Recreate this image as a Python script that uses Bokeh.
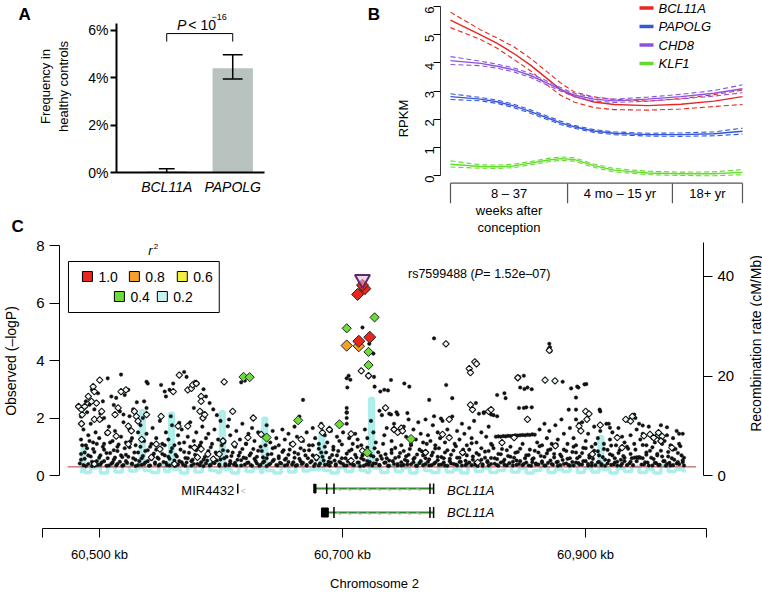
import numpy as np
from bokeh.plotting import figure
from bokeh.models import Range1d, LinearAxis, FixedTicker, PrintfTickFormatter
from bokeh.layouts import column, row
from bokeh.embed import file_html
from bokeh.resources import INLINE
from bokeh.core.properties import value

FONT = "Liberation Sans"

# ---------------- Panel A data ----------------
a_genes = ["BCL11A", "PAPOLG"]
a_freq = [0.05, 4.40]
a_err_lo = [0.0, 3.95]
a_err_hi = [0.16, 4.98]
a_ticks = [0, 2, 4, 6]

# ---------------- Panel B data ----------------
b_t = [0.0, 0.103, 0.160, 0.217, 0.274, 0.331, 0.377, 0.423, 0.491, 0.560, 0.674, 0.789, 0.903, 1.0]
b_series = ["BCL11A", "PAPOLG", "CHD8", "KLF1"]
b_colors = ["#e8271f", "#3457dc", "#8b52de", "#62dc2c"]
bcl11a_fit = [5.52, 4.99, 4.69, 4.33, 3.92, 3.44, 3.05, 2.81, 2.61, 2.52, 2.48, 2.53, 2.64, 2.80]
bcl11a_hi = [5.80, 5.17, 4.88, 4.57, 4.16, 3.68, 3.29, 2.97, 2.79, 2.70, 2.64, 2.73, 2.87, 3.03]
bcl11a_lo = [5.25, 4.83, 4.52, 4.12, 3.72, 3.21, 2.85, 2.61, 2.41, 2.34, 2.32, 2.36, 2.45, 2.52]
papolg_fit = [2.80, 2.71, 2.62, 2.47, 2.27, 2.05, 1.87, 1.73, 1.58, 1.50, 1.45, 1.45, 1.48, 1.57]
papolg_hi = [2.90, 2.77, 2.68, 2.53, 2.33, 2.11, 1.93, 1.78, 1.63, 1.55, 1.50, 1.51, 1.55, 1.68]
papolg_lo = [2.70, 2.65, 2.56, 2.41, 2.21, 1.99, 1.81, 1.68, 1.53, 1.45, 1.40, 1.39, 1.41, 1.47]
chd8_fit = [4.08, 3.98, 3.88, 3.75, 3.55, 3.28, 3.06, 2.86, 2.71, 2.65, 2.71, 2.80, 2.92, 3.08]
chd8_hi = [4.22, 4.06, 3.95, 3.82, 3.62, 3.35, 3.12, 2.92, 2.77, 2.71, 2.78, 2.88, 3.02, 3.22]
chd8_lo = [3.94, 3.90, 3.81, 3.68, 3.48, 3.21, 3.00, 2.80, 2.65, 2.59, 2.64, 2.72, 2.82, 2.94]
klf1_fit = [0.40, 0.32, 0.31, 0.34, 0.44, 0.54, 0.60, 0.57, 0.35, 0.19, 0.09, 0.06, 0.06, 0.11]
klf1_hi = [0.52, 0.38, 0.37, 0.40, 0.50, 0.60, 0.66, 0.63, 0.41, 0.25, 0.15, 0.12, 0.13, 0.21]
klf1_lo = [0.30, 0.26, 0.25, 0.28, 0.38, 0.48, 0.54, 0.51, 0.29, 0.13, 0.03, 0.00, -0.01, 0.03]
b_fits = [bcl11a_fit, papolg_fit, chd8_fit, klf1_fit]
b_his = [bcl11a_hi, papolg_hi, chd8_hi, klf1_hi]
b_los = [bcl11a_lo, papolg_lo, chd8_lo, klf1_lo]
b_ticks = [0, 1, 2, 3, 4, 5, 6]
b_period_edges = [0.0, 0.401, 0.760, 1.0]
b_period_labels = ["8 – 37\nweeks after\nconception", "4 mo – 15 yr", "18+ yr"]

# ---------------- Panel C data ----------------
c_left_ticks = [0, 2, 4, 6, 8]
c_right_ticks = [0, 20, 40]
c_x_ticks = [60500, 60700, 60900]
c_threshold = 0.3
index_snp = ("rs7599488", 60716, 6.82)

# SNPs without LD information (black dots): (kb, -log10 P)
na_snps = [
    (60483,0.42),(60484,0.75),(60486,0.36),(60487,0.58),(60489,0.95),(60490,0.4),(60492,0.66),(60493,0.33),(60495,0.82),(60497,0.5),
    (60498,0.37),(60500,0.7),(60501,0.45),(60503,0.9),(60505,0.34),(60506,0.6),(60508,0.78),(60509,0.41),(60511,0.55),(60513,0.35),
    (60514,0.85),(60516,0.48),(60518,0.64),(60519,0.36),(60521,0.72),(60522,0.44),(60524,0.98),(60526,0.39),(60527,0.6),(60529,0.33),
    (60531,0.8),(60532,0.5),(60534,0.37),(60535,0.68),(60537,0.45),(60539,0.88),(60540,0.34),(60542,0.57),(60544,0.76),(60545,0.4),
    (60547,0.62),(60548,0.35),(60550,0.93),(60552,0.47),(60553,0.7),(60555,0.36),(60557,0.58),(60558,0.83),(60560,0.42),(60562,0.34),
    (60563,0.66),(60565,0.5),(60566,0.9),(60568,0.38),(60570,0.61),(60571,0.45),(60573,0.79),(60575,0.35),(60576,0.55),(60578,0.72),
    (60580,0.4),(60581,0.96),(60583,0.46),(60585,0.33),(60586,0.64),(60588,0.52),(60589,0.85),(60591,0.37),(60593,0.6),(60594,0.43),
    (60596,0.74),(60598,0.34),(60599,0.56),(60601,0.88),(60603,0.4),(60604,0.65),(60606,0.36),(60607,0.5),(60609,0.8),(60611,0.44),
    (60612,0.35),(60614,0.69),(60616,0.53),(60617,0.92),(60619,0.38),(60620,0.6),(60622,0.45),(60624,0.77),(60625,0.34),(60627,0.58),
    (60629,0.42),(60630,0.86),(60632,0.37),(60634,0.63),(60635,0.49),(60637,0.33),(60638,0.73),(60640,0.41),(60642,0.95),(60643,0.55),
    (60645,0.36),(60647,0.67),(60648,0.44),(60650,0.82),(60652,0.35),(60653,0.59),(60655,0.47),(60656,0.9),(60658,0.38),(60660,0.62),
    (60661,0.34),(60663,0.75),(60665,0.5),(60666,0.4),(60668,0.87),(60670,0.36),(60671,0.6),(60673,0.45),(60675,0.7),(60676,0.33),
    (60678,0.56),(60680,0.93),(60681,0.42),(60683,0.65),(60685,0.37),(60686,0.8),(60688,0.48),(60689,0.34),(60691,0.71),(60693,0.52),
    (60694,0.39),(60696,0.85),(60698,0.44),(60699,0.6),(60701,0.35),(60703,0.76),(60704,0.5),(60706,0.41),(60707,0.9),(60709,0.36),
    (60711,0.63),(60712,0.45),(60714,0.33),(60716,0.7),(60717,0.55),(60719,0.38),(60720,0.97),(60722,0.47),(60724,0.35),(60725,0.66),
    (60727,0.42),(60729,0.81),(60730,0.36),(60732,0.58),(60734,0.44),(60735,0.74),(60737,0.34),(60738,0.52),(60740,0.89),(60742,0.4),
    (60743,0.61),(60745,0.35),(60747,0.78),(60748,0.46),(60750,0.37),(60752,0.67),(60753,0.5),(60755,0.92),(60756,0.39),(60758,0.57),
    (60760,0.34),(60761,0.73),(60763,0.43),(60765,0.84),(60766,0.36),(60768,0.6),(60770,0.48),(60771,0.35),(60773,0.7),(60775,0.41),
    (60776,0.94),(60778,0.53),(60779,0.37),(60781,0.64),(60783,0.45),(60784,0.8),(60786,0.34),(60788,0.58),(60789,0.42),(60791,0.87),
    (60793,0.38),(60794,0.62),(60796,0.47),(60798,0.35),(60799,0.76),(60801,0.51),(60802,0.4),(60804,0.9),(60806,0.36),(60807,0.66),
    (60809,0.44),(60811,0.33),(60812,0.72),(60814,0.55),(60815,0.39),(60817,0.83),(60819,0.46),(60820,0.35),(60822,0.61),(60824,0.95),
    (60825,0.41),(60827,0.57),(60828,0.34),(60830,0.74),(60832,0.48),(60833,0.37),(60835,0.88),(60837,0.43),(60838,0.65),(60840,0.35),
    (60842,0.79),(60843,0.52),(60845,0.4),(60846,0.93),(60848,0.36),(60850,0.6),(60851,0.45),(60853,0.71),(60855,0.34),(60856,0.56),
    (60858,0.86),(60859,0.42),(60861,0.38),(60863,0.68),(60864,0.49),(60866,0.35),(60868,0.77),(60869,0.44),(60871,0.91),(60873,0.37),
    (60874,0.63),(60876,0.46),(60877,0.34),(60879,0.73),(60881,0.54),(60882,0.4),(60884,0.85),(60886,0.36),(60887,0.6),(60889,0.47),
    (60890,0.35),(60892,0.8),(60894,0.43),(60895,0.66),(60897,0.38),(60898,0.96),(60900,0.5),(60902,0.35),(60903,0.7),(60905,0.44),
    (60906,0.58),(60908,0.36),(60910,0.84),(60911,0.47),(60913,0.4),(60914,0.64),(60916,0.34),(60918,0.89),(60919,0.52),(60921,0.37),
    (60922,0.7),(60924,0.45),(60926,0.35),(60927,0.78),(60929,0.55),(60930,0.41),(60932,0.62),(60934,0.36),(60935,0.93),(60937,0.48),
    (60938,0.6),(60940,0.62),(60942,0.63),(60943,0.61),(60945,0.62),(60947,0.6),(60948,0.38),(60950,0.72),(60951,0.45),(60953,0.86),
    (60955,0.35),(60956,0.57),(60958,0.43),(60959,0.75),(60961,0.37),(60963,0.66),(60964,0.5),(60966,0.34),(60968,0.82),(60969,0.44),
    (60971,0.6),(60972,0.36),(60974,0.92),(60976,0.47),(60977,0.39),(60979,0.7),(60980,0.53),(60981,0.35),
    (60484,0.55),(60485,1.05),(60487,0.8),(60488,0.33),(60490,0.7),(60491,1.2),(60493,0.48),(60494,0.92),(60496,0.36),(60497,1.1),
    (60499,0.62),(60500,0.38),(60502,1.0),(60503,0.5),(60505,0.78),(60507,0.35),(60508,1.15),(60510,0.45),(60511,0.88),(60512,0.62),
    (60514,0.4),(60515,1.08),(60517,0.7),(60518,0.34),(60520,0.95),(60521,0.5),(60523,0.65),(60525,1.2),(60526,0.42),(60528,0.8),
    (60529,0.55),(60531,0.36),(60533,1.0),(60534,0.6),(60536,0.4),(60537,0.85),(60539,0.5),(60541,0.35),(60542,1.1),(60543,0.68),
    (60545,0.45),(60546,0.9),(60548,0.58),(60549,0.38),(60551,0.75),(60553,1.05),(60554,0.44),(60556,0.65),(60557,0.35),(60559,0.95),
    (60561,0.52),(60562,0.72),(60564,0.38),(60565,1.12),(60567,0.46),(60569,0.82),(60570,0.34),(60572,0.6),(60574,1.0),(60575,0.5),
    (60577,0.4),(60579,0.88),(60580,0.62),(60582,0.36),(60583,1.15),(60585,0.55),(60587,0.42),(60588,0.7),(60590,0.35),(60591,0.98),
    (60593,0.46),(60595,0.8),(60596,0.52),(60598,0.38),(60600,1.05),(60602,0.6),(60603,0.35),(60605,0.85),(60607,0.42),(60608,0.68),
    (60610,0.38),(60611,1.0),(60613,0.55),(60615,0.8),(60616,0.35),(60618,0.62),(60620,1.1),(60621,0.44),(60623,0.7),(60624,0.36),
    (60626,0.92),(60628,0.5),(60629,0.65),(60631,0.34),(60633,0.85),(60634,0.45),(60636,1.05),(60637,0.6),(60639,0.38),(60641,0.75),
    (60642,0.5),(60644,0.98),(60646,0.35),(60647,0.6),(60649,0.42),(60651,0.88),(60652,0.55),(60654,0.37),(60655,0.72),(60657,1.1),
    (60659,0.46),(60660,0.8),(60662,0.36),(60664,0.58),(60665,0.95),(60667,0.44),(60669,0.7),(60670,0.34),(60672,0.88),(60674,0.5),
    (60675,1.05),(60677,0.4),(60679,0.65),(60680,0.35),(60682,0.8),(60684,0.52),(60685,1.0),(60687,0.38),(60689,0.62),(60690,0.45),
    (60692,0.9),(60694,0.35),(60695,0.7),(60697,0.48),(60699,1.08),(60700,0.4),(60702,0.6),(60703,0.35),(60705,0.85),(60707,0.52),
    (60708,0.38),(60710,0.72),(60712,1.0),(60713,0.45),(60715,0.6),(60717,0.34),(60718,0.82),(60720,0.5),(60721,0.38),(60723,0.7),
    (60725,0.42),(60726,0.95),(60728,0.55),(60730,0.36),(60731,0.68),(60733,1.1),(60735,0.45),(60736,0.6),(60738,0.34),(60740,0.78),
    (60741,0.5),(60743,0.96),(60745,0.4),(60746,0.65),(60748,0.35),(60750,0.85),(60751,0.55),(60753,0.38),(60754,0.72),(60756,1.05),
    (60758,0.46),(60759,0.62),(60761,0.34),(60763,0.9),(60764,0.5),(60766,0.7),(60768,0.4),(60769,1.1),(60771,0.56),(60773,0.36),
    (60774,0.8),(60776,0.45),(60778,0.65),(60779,0.95),(60781,0.38),(60783,0.6),(60784,0.35),(60786,0.88),(60788,0.5),(60789,0.72),
    (60791,0.4),(60793,1.02),(60794,0.35),(60796,0.62),(60797,0.48),(60799,0.9),(60801,0.36),(60802,0.7),(60804,0.45),(60806,1.12),
    (60807,0.55),(60809,0.38),(60810,0.78),(60812,0.46),(60814,0.95),(60815,0.34),(60817,0.62),(60819,0.5),(60820,0.85),(60822,0.4),
    (60823,1.05),(60825,0.6),(60827,0.36),(60828,0.75),(60830,0.45),(60831,0.92),(60833,0.55),(60835,0.35),(60836,0.68),(60838,1.0),
    (60840,0.48),(60841,0.62),(60843,0.37),(60844,0.82),(60846,0.5),(60848,1.1),(60849,0.4),(60851,0.7),(60853,0.35),(60854,0.9),
    (60856,0.46),(60857,0.6),(60859,0.38),(60861,0.8),(60862,1.02),(60864,0.44),(60866,0.65),(60867,0.35),(60869,0.88),(60871,0.52),
    (60872,0.4),(60874,0.75),(60876,1.08),(60877,0.48),(60879,0.36),(60880,0.66),(60882,0.9),(60884,0.42),(60885,0.58),(60887,0.35),
    (60889,0.82),(60890,1.0),(60892,0.45),(60893,0.6),(60895,0.38),(60897,0.78),(60898,0.5),(60900,0.95),(60902,0.4),(60903,0.62),
    (60905,0.35),(60907,0.86),(60908,1.1),(60910,0.46),(60911,0.7),(60913,0.36),(60915,0.92),(60916,0.55),(60918,0.42),(60920,0.74),
    (60921,1.04),(60923,0.38),(60924,0.6),(60926,0.48),(60928,0.88),(60929,0.35),(60931,0.68),(60932,0.5),(60934,1.0),(60936,0.42),
    (60937,0.75),(60939,0.36),(60941,0.9),(60942,0.5),(60944,0.64),(60946,0.38),(60947,1.06),(60949,0.46),(60950,0.8),(60952,0.35),
    (60954,0.62),(60955,0.98),(60957,0.44),(60959,0.7),(60960,0.36),(60962,0.86),(60963,1.1),(60965,0.5),(60967,0.4),(60968,0.66),
    (60970,0.35),(60972,0.9),(60973,0.55),(60975,0.42),(60976,0.78),(60978,1.02),(60980,0.46),(60981,0.62),
    (60484,1.25),(60486,1.6),(60488,1.05),(60490,1.4),(60492,1.8),(60494,1.15),(60496,1.5),(60499,1.3),(60501,1.95),(60503,1.1),
    (60505,1.45),(60507,1.7),(60510,1.2),(60512,1.55),(60514,1.0),(60517,1.35),(60519,1.85),(60521,1.15),(60524,1.6),(60526,1.3),
    (60529,1.05),(60531,1.5),(60533,1.75),(60536,1.2),(60538,1.45),(60541,1.0),(60543,1.65),(60546,1.3),(60549,1.9),(60551,1.1),
    (60554,1.5),(60556,1.25),(60559,1.75),(60561,1.05),(60564,1.4),(60567,1.6),(60569,1.15),(60572,1.35),(60574,1.85),(60577,1.2),
    (60579,1.5),(60582,1.05),(60584,1.7),(60587,1.3),(60589,1.45),(60592,1.1),(60594,1.6),(60597,1.25),(60599,1.9),(60602,1.15),
    (60605,1.71),(60607,1.4),(60610,1.05),(60612,1.55),(60615,1.25),(60617,1.8),(60620,1.1),(60622,1.45),(60625,1.65),(60627,1.2),
    (60630,1.5),(60632,1.0),(60635,1.35),(60637,1.75),(60640,1.15),(60642,1.55),(60645,1.3),(60647,1.05),(60650,1.6),(60652,1.25),
    (60655,1.45),(60657,1.1),(60660,1.7),(60662,1.35),(60664,2.05),(60667,1.2),(60670,1.5),(60672,1.05),(60675,1.65),(60677,1.3),
    (60680,1.1),(60682,1.8),(60685,1.4),(60687,1.15),(60690,1.55),(60692,1.0),(60695,1.35),(60697,1.2),(60700,1.5),(60703,2.2),
    (60703,2.0),(60703,1.8),(60705,1.3),(60708,1.1),(60710,1.45),(60712,1.25),(60715,1.05),(60718,1.6),(60720,1.3),(60723,1.9),
    (60725,1.5),(60727,1.15),(60730,2.25),(60732,2.1),(60734,1.4),(60736,1.65),(60738,2.15),(60740,1.2),(60742,1.8),(60744,2.2),
    (60746,1.5),(60748,1.05),(60750,1.7),(60752,1.35),(60754,1.95),(60756,1.1),(60758,1.6),(60760,1.25),(60762,1.85),(60764,1.45),
    (60766,1.15),(60768,1.95),(60770,1.4),(60772,1.2),(60774,1.75),(60776,1.05),(60778,1.5),(60780,1.3),(60782,1.9),(60784,1.15),
    (60786,1.6),(60788,1.35),(60790,2.05),(60792,1.1),(60794,1.55),(60796,1.25),(60798,1.8),(60800,1.45),(60802,1.05),(60804,1.65),
    (60806,1.3),(60808,1.9),(60810,1.15),(60812,2.15),(60814,1.5),(60816,2.2),(60818,1.35),(60820,1.7),(60822,1.1),(60824,2.1),
    (60826,1.35),(60828,1.36),(60830,1.35),(60832,1.37),(60834,1.36),(60836,1.38),(60838,1.37),(60840,1.38),(60842,1.4),(60844,1.39),
    (60846,1.4),(60848,1.41),(60850,1.4),(60852,1.42),(60854,1.41),(60856,1.43),(60858,1.42),(60860,1.15),(60862,1.6),(60864,1.05),
    (60866,1.8),(60868,1.3),(60870,1.55),(60872,1.1),(60875,1.75),(60877,1.25),(60880,1.95),(60882,1.45),(60885,1.1),(60887,1.65),
    (60890,1.3),(60892,1.05),(60895,1.55),(60897,1.85),(60900,1.2),(60902,1.45),(60905,1.0),(60907,1.7),(60910,1.3),(60912,1.55),
    (60915,1.1),(60917,1.8),(60920,1.25),(60922,1.5),(60925,1.05),(60927,1.65),(60930,1.35),(60932,1.15),(60935,1.9),(60937,1.4),
    (60940,1.1),(60942,1.6),(60945,1.25),(60947,1.45),(60950,1.05),(60952,1.7),(60955,1.3),(60957,1.15),(60960,1.5),(60962,1.75),
    (60965,1.2),(60967,1.4),(60970,1.05),(60972,1.3),(60975,1.55),(60977,1.1),(60980,1.45),
    (60486,2.35),(60488,2.58),(60491,2.46),(60493,2.98),(60498,2.86),(60502,2.58),(60506,3.38),(60509,2.75),(60517,3.51),(60503,2.0),
    (60484,2.05),(60489,2.2),(60495,2.3),(60500,2.15),(60511,2.45),(60513,2.7),(60527,2.3),(60530,2.55),
    (60516,2.23),(60519,2.12),(60523,2.98),(60520,2.8),(60524,2.06),(60538,3.26),(60539,3.2),(60536,2.58),(60538,2.35),(60535,2.0),
    (60550,3.15),(60553,2.92),(60554,2.75),(60557,2.98),(60560,3.2),(60569,3.6),(60571,3.43),(60578,3.26),(60580,3.2),(60577,2.35),
    (60583,2.23),(60590,2.52),(60558,2.06),(60565,1.83),(60585,3.0),(60587,2.75),(60593,2.3),(60596,2.1),
    (60606,1.95),(60616,3.24),(60619,3.3),(60667,2.63),
    (60703,3.38),(60704.6,3.47),(60706,3.33),(60703.5,3.06),(60703,2.35),(60703,2.18),(60716,5.15),(60721.6,4.58),(60726,3.09),
    (60725,4.24),(60725.5,3.43),(60730.7,2.92),(60734,2.98),(60737,2.96),(60739.5,3.32),(60750.5,3.2),(60754.6,3.09),(60771,2.63),
    (60775,4.77),(60785,3.15),(60790,2.69),(60809.5,2.52),(60734,2.35),(60739.5,2.12),(60745,2.12),(60753,2.17),(60775,2.06),
    (60780.7,1.98),(60816,2.17),(60822,2.12),(60827,2.06),(60827,2.8),(60833,2.86),(60834,2.69),(60845,3.43),(60849,3.47),
    (60846,3.06),(60849.5,3.01),(60852,3.06),(60855.5,3.0),(60845,2.35),(60849,2.35),(60851,2.37),(60855.5,2.37),
    (60870,4.58),(60870.5,4.46),(60869.5,4.41),(60871,4.32),(60881,3.26),(60888,3.03),(60893,3.09),(60894,3.06),(60899,3.17),
    (60900.5,3.18),(60892,2.71),(60886,2.29),(60892,2.29),(60911.5,2.29),(60912,2.23),(60940,2.12),(60892,1.95),(60894.5,1.8),
    (60919,1.8),(60920,1.66),(60944,1.8),(60947,1.74),(60967,1.68),(60977,1.45),(60936,1.95),(60939,2.05),(60941,2.0),
]

# SNPs with r2 <= 0.2 (small pale diamonds)
r2_02_snps = [
    (60482,2.4),(60484.4,2.29),(60485,2.12),(60487,2.4),(60490,2.75),(60492.6,2.58),(60494,3.09),(60495,2.92),(60496.7,2.52),
    (60499.4,3.32),(60501,2.23),(60495,1.95),(60499.4,1.95),(60484.4,1.8),(60514.6,2.35),(60517,2.92),(60521,2.98),(60528,2.23),
    (60529.6,2.06),(60523,1.72),(60525.5,1.55),(60531,1.89),(60538,2.12),(60512,2.12),(60550,2.06),(60560,2.92),(60565,3.49),
    (60572,2.98),(60575,3.03),(60576,3.15),(60579,3.2),(60583,2.75),(60582,2.23),(60584.5,2.0),(60586,2.12),(60564,1.72),
    (60572,1.72),(60583,2.58),(60506,1.49),(60513,1.37),(60523,1.09),(60534,1.26),(60546,1.09),(60549,0.92),(60577.6,0.97),
    (60583,0.92),(60588.6,0.74),(60495,0.4),(60542,0.63),(60561,0.4),(60580,0.63),(60593,0.57),
    (60602,3.26),(60609,2.23),(60626,2.0),(60601,1.2),(60610.5,1.09),(60621.6,1.32),(60632.5,1.43),(60658.6,1.09),(60665.4,1.26),
    (60682,1.72),(60688.7,1.6),(60683,1.49),(60706.6,1.45),(60716,0.86),(60678,0.63),(60706.6,0.52),(60715,3.64),(60721,3.47),
    (60598,0.74),(60784.8,4.58),(60804,3.72),(60805,3.58),(60808.6,3.95),(60810,3.88),(60805,2.46),(60806.7,2.29),(60735,2.35),
    (60787.5,1.95),(60742,1.6),(60745,1.5),(60748,1.65),(60749,1.55),(60844,3.4),(60852,1.95),(60782,1.43),(60787.5,1.32),
    (60768,0.8),(60798.5,0.8),(60820,2.23),(60822,2.29),(60831,1.14),(60841,1.32),(60811,0.46),
    (60870,4.35),(60866.5,3.32),(60874.7,3.29),(60900,2.23),(60902.7,2.14),(60901,1.95),(60894.5,1.72),(60896,1.55),(60912,1.75),
    (60933,1.95),(60937,1.89),(60938.4,2.06),(60926,1.32),(60930,0.97),(60948,1.38),(60953,1.43),(60956,1.32),(60960,1.4),
    (60963,1.36),(60960,1.49),(60962,1.2),(60875,1.03),(60905.5,0.74),(60971,0.97),
]

# SNPs in LD with the index SNP
r2_10_snps = [(60713, 4.67), (60722, 4.81), (60712, 6.30), (60718, 6.50), (60716, 6.62)]
r2_08_snps = [(60703, 4.52), (60713, 4.50)]
r2_04_snps = [(60703, 5.12), (60726, 5.50), (60721, 4.30), (60721, 3.84), (60618, 3.43), (60623, 3.42),
              (60663, 1.92), (60697, 1.78), (60637, 1.32), (60756, 1.27), (60720, 0.80)]
r2_labels = ["1.0", "0.8", "0.6", "0.4", "0.2"]
r2_colors = ["#e8261e", "#f5a02a", "#f2ee3c", "#6cdc3a", "#c8f2f0"]

# recombination rate (cM/Mb)
recomb_kb = [60483, 60485, 60487, 60492, 60497, 60500, 60506, 60512, 60518, 60524, 60530, 60533, 60536, 60542, 60548,
             60553, 60557, 60560, 60566, 60572, 60578, 60584, 60590, 60596, 60599, 60602, 60608, 60614, 60620, 60626,
             60632, 60634, 60637, 60643, 60649, 60655, 60661, 60667, 60672, 60681, 60684, 60690, 60696, 60702, 60708,
             60714, 60719, 60722, 60725, 60731, 60737, 60743, 60749, 60755, 60761, 60767, 60773, 60779, 60785, 60791,
             60797, 60803, 60809, 60815, 60821, 60827, 60833, 60839, 60845, 60851, 60857, 60863, 60869, 60875, 60881,
             60887, 60893, 60899, 60905, 60911, 60914, 60920, 60926, 60932, 60938, 60944, 60950, 60956, 60962, 60968,
             60974, 60981]
recomb_rate = [0.8, 5.5, 0.6, 1.5, 3.0, 0.5, 1.8, 0.7, 2.2, 0.9, 1.5, 13.0, 1.0, 0.6, 2.0,
               0.8, 12.5, 1.2, 0.5, 1.8, 0.7, 2.5, 1.0, 0.6, 12.8, 1.2, 0.5, 2.0, 0.8, 1.5,
               0.6, 11.5, 1.0, 0.5, 1.8, 0.7, 2.0, 0.9, 1.2, 8.5, 1.0, 0.5, 1.6, 0.8, 2.0,
               1.0, 0.6, 15.5, 1.5, 0.6, 2.0, 0.8, 1.5, 0.5, 2.5, 1.0, 0.6, 1.8, 0.7, 1.2,
               0.5, 2.0, 0.8, 1.5, 0.6, 1.0, 2.2, 0.7, 1.4, 0.5, 1.0, 1.8, 0.6, 1.2, 0.8,
               2.0, 0.6, 1.5, 0.7, 7.8, 1.2, 0.5, 1.4, 0.8, 1.8, 0.6, 1.2, 0.5, 2.0, 0.8,
               1.2, 0.6]

# genes
gene_names = ["BCL11A", "BCL11A"]
gene_start = [60677, 60683]
gene_end = [60775, 60775]
gene_exon_ticks = [[60687, 60693, 60772, 60775], [60693, 60772, 60775]]
gene_exon_boxes = [[(60676.4, 60678.2)], [(60682.7, 60688.3)]]
gene_intron = [(60697, 60769), (60697, 60769)]
mir_name = "MIR4432"
mir_pos = 60613.8

panel_letters = ["A", "B", "C"]


def unzip(pairs):
    return [p[0] for p in pairs], [p[1] for p in pairs]


def txt(p, x, y, s, size, style="normal", align="left", baseline="middle", color="black", angle=0):
    p.text(x=[x], y=[y], text=[s], text_font=value(FONT), text_font_size=value(size),
           text_font_style=style, text_align=align, text_baseline=baseline,
           text_color=color, angle=angle)


def base(p):
    p.outline_line_color = None
    p.grid.visible = False
    p.background_fill_color = "white"
    p.border_fill_color = "white"
    p.frame_align = False


def style_axis(ax, size):
    ax.major_label_text_font = FONT
    ax.major_label_text_font_size = size
    ax.axis_label_text_font = FONT
    ax.axis_label_text_font_style = "normal"
    ax.minor_tick_out = 0
    ax.minor_tick_in = 0
    ax.major_tick_in = 0
    ax.axis_line_color = "black"
    ax.major_tick_line_color = "black"
    ax.major_label_text_color = "black"
    ax.axis_label_text_color = "black"


def blank(width, height):
    # a figure whose frame is the whole canvas, in screen-like units (y grows downward)
    p = figure(width=width, height=height, output_backend="svg", toolbar_location=None,
               x_range=Range1d(0, width), y_range=Range1d(height, 0),
               x_axis_location=None, y_axis_location=None,
               min_border_left=0, min_border_right=0, min_border_top=0, min_border_bottom=0)
    base(p)
    return p


TOP_H = 236

# =============== panel letters A / C column ===============
pl = blank(35, TOP_H)
txt(pl, 18, 4, panel_letters[0], "17px", style="bold", baseline="top")
txt(pl, 11, TOP_H - 0.5, panel_letters[2], "17px", style="bold", baseline="bottom")

# =============== Panel A ===============
# x=0 at 163px, 67 px/unit ; y=0 at 172px, 23.67 px per %
pa = figure(width=345, height=TOP_H, output_backend="svg", toolbar_location=None,
            x_range=Range1d(-0.761, 3.239), y_range=Range1d(0, 7.267),
            min_border_left=77, min_border_right=0, min_border_top=0, min_border_bottom=TOP_H - 172)
base(pa)
xa = list(range(len(a_genes)))
pa.vbar(x=xa, top=a_freq, width=0.612, fill_color="#b8c3c0", line_color=None)
pa.segment(x0=xa, y0=a_err_lo, x1=xa, y1=a_err_hi, line_color="black", line_width=1.5)
cap = [0.12, 0.15]
pa.segment(x0=[x - c for x, c in zip(xa, cap)], y0=a_err_hi, x1=[x + c for x, c in zip(xa, cap)], y1=a_err_hi,
           line_color="black", line_width=1.5)
pa.segment(x0=[x - c for x, c in zip(xa[1:], cap[1:])], y0=a_err_lo[1:],
           x1=[x + c for x, c in zip(xa[1:], cap[1:])], y1=a_err_lo[1:], line_color="black", line_width=1.5)
# significance bracket
pa.segment(x0=[xa[0], xa[0], xa[1]], y0=[5.87, 5.87, 5.87], x1=[xa[1], xa[0], xa[1]], y1=[5.87, 5.53, 5.53],
           line_color="black", line_width=1)
txt(pa, 0.154, 6.25, "P", "14px", style="italic", baseline="alphabetic")
txt(pa, 0.328, 6.25, "< 10", "14px", baseline="alphabetic")
txt(pa, 0.68, 6.55, "−16", "9px", baseline="alphabetic")
# panel letter B (sits left of panel B's axis)
txt(pa, (367 - 163) / 67, (172 - 4) / 23.67, panel_letters[1], "17px", style="bold", baseline="top")
pa.yaxis.ticker = FixedTicker(ticks=a_ticks)
pa.yaxis.formatter = PrintfTickFormatter(format="%d%%")
pa.yaxis.bounds = (0, 6.28)
style_axis(pa.yaxis[0], "14px")
pa.yaxis.major_tick_out = 6
pa.yaxis.major_label_standoff = 2
pa.yaxis.axis_line_width = 2
pa.yaxis.major_tick_line_width = 2
pa.yaxis.axis_label = "Frequency in\nhealthy controls"
pa.yaxis.axis_label_text_font_size = "13px"
pa.yaxis.axis_label_standoff = 14
pa.xaxis.ticker = FixedTicker(ticks=xa)
pa.xaxis.bounds = (-0.761, 1.478)
pa.xaxis.major_label_overrides = {i: g for i, g in enumerate(a_genes)}
style_axis(pa.xaxis[0], "14px")
pa.xaxis.major_label_text_font_style = "italic"
pa.xaxis.major_tick_out = 0
pa.xaxis.major_label_standoff = 6
pa.xaxis.axis_line_width = 2

# =============== Panel B ===============
# t=0 at 450px, 292 px/unit; y=0 at 175px, 28.17 px/unit
pb = figure(width=382, height=TOP_H, output_backend="svg", toolbar_location=None,
            x_range=Range1d(-0.0342, 1.0685), y_range=Range1d(-(TOP_H - 175) / 28.17, 6.213),
            x_axis_location=None, min_border_left=60, min_border_right=0, min_border_top=0, min_border_bottom=0)
base(pb)
for name, col, fit, hi, lo in zip(b_series, b_colors, b_fits, b_his, b_los):
    pb.line(b_t, hi, line_color=col, line_width=1.1, line_dash="5 3")
    pb.line(b_t, lo, line_color=col, line_width=1.1, line_dash="5 3")
    pb.line(b_t, fit, line_color=col, line_width=1.4)


def by(py):
    return (175 - py) / 28.17


def bx(px):
    return (px - 450) / 292


for i, (name, col) in enumerate(zip(b_series, b_colors)):
    yy = by(7.5 + 18.5 * i)
    pb.segment(x0=[bx(639)], y0=[yy], x1=[bx(653)], y1=[yy], line_color=col, line_width=3.5)
    txt(pb, bx(658), yy, name, "13px", style="italic")
# period bracket
e = b_period_edges
pb.segment(x0=[e[0]], y0=[by(182.7)], x1=[e[-1]], y1=[by(182.7)], line_color="#555555", line_width=1.2)
pb.segment(x0=e, y0=[by(182.7)] * len(e), x1=e, y1=[by(202.7)] * len(e), line_color="#555555", line_width=1.2)
for k, lab in enumerate(b_period_labels):
    mid = (e[k] + e[k + 1]) / 2
    for j, line in enumerate(lab.split("\n")):
        txt(pb, mid, by(193 + 16.8 * j), line, "13px", align="center")
pb.yaxis.ticker = FixedTicker(ticks=b_ticks)
pb.yaxis.bounds = (0, 6)
style_axis(pb.yaxis[0], "13px")
pb.yaxis.major_tick_out = 7
pb.yaxis.major_label_standoff = 4
pb.yaxis.major_label_orientation = np.pi / 2
pb.yaxis.axis_line_color = "#333333"
pb.yaxis.axis_label = "RPKM"
pb.yaxis.axis_label_text_font_size = "13px"
pb.yaxis.axis_label_standoff = 7

# =============== Panel C (association) ===============
# kb: 60500 at 99px, 1.215 px/kb ; -logP 0 at 475px, 28.75 px/unit
PC_H = 483 - TOP_H
LP_PX = 28.75
pc = figure(width=742, height=PC_H, output_backend="svg", toolbar_location=None,
            x_range=Range1d(60466.26, 60997.1), y_range=Range1d(-4 / LP_PX, (475 - 242) / LP_PX),
            x_axis_location=None, min_border_left=58, min_border_right=39, min_border_top=242 - TOP_H,
            min_border_bottom=4)
base(pc)
pc.extra_y_ranges = {"recomb": Range1d(-0.80, 46.83)}


def cx(px):
    return 60500 + (px - 99) / 1.215


def cy(py):
    return (475 - py) / LP_PX


pc.step(recomb_kb, recomb_rate, mode="after", y_range_name="recomb", line_color="#aeeeea", line_width=3.5)
na_x, na_y = unzip(na_snps)
pc.segment(x0=[min(na_x) - 10], y0=[c_threshold], x1=[max(na_x) + 10], y1=[c_threshold],
           line_color="#b23a3a", line_width=1)
pc.scatter(na_x, na_y, marker="circle", size=3.6, fill_color="#111111", line_color="#111111", line_width=0.4)
d_x, d_y = unzip(r2_02_snps)
pc.scatter(d_x, d_y, marker="square", angle=np.pi / 4, size=4.6, fill_color="#eefafa", line_color="#111111",
           line_width=1.1)
g_x, g_y = unzip(r2_04_snps)
pc.scatter(g_x, g_y, marker="square", angle=np.pi / 4, size=6.5, fill_color=r2_colors[3], line_color="#222222",
           line_width=1)
o_x, o_y = unzip(r2_08_snps)
pc.scatter(o_x, o_y, marker="square", angle=np.pi / 4, size=8, fill_color=r2_colors[1], line_color="#222222",
           line_width=1)
r_x, r_y = unzip(r2_10_snps)
pc.scatter(r_x, r_y, marker="square", angle=np.pi / 4, size=8.5, fill_color=r2_colors[0], line_color="#222222",
           line_width=1)
pc.scatter([index_snp[1]], [index_snp[2]], marker="inverted_triangle", size=15, fill_color="#e6b4e0",
           fill_alpha=0.55, line_color="#5a2a6a", line_width=2)
# r2 legend
pc.quad(left=[cx(67)], right=[cx(218)], top=[cy(261)], bottom=[cy(312)], fill_color="white",
        line_color="black", line_width=1)
txt(pc, cx(147), cy(250), "r", "13px", style="italic", align="left")
txt(pc, cx(152.5), cy(246), "2", "8px", align="left")
leg_px = [86, 133, 181, 118, 161]
leg_py = [276, 276, 276, 296, 296]
pc.scatter([cx(v) for v in leg_px], [cy(v) for v in leg_py], marker="square", size=10, fill_color=r2_colors,
           line_color="black", line_width=1)
for lab, px, py in zip(r2_labels, leg_px, leg_py):
    txt(pc, cx(px + 11), cy(py), lab, "14px")
# index SNP annotation
ann_y = cy(273.5)
txt(pc, cx(407), ann_y, index_snp[0] + " (", "12.5px")
txt(pc, cx(473.7), ann_y, "P", "12.5px", style="italic")
txt(pc, cx(482.5), ann_y, " = 1.52e–07)", "12.5px")

pc.yaxis.ticker = FixedTicker(ticks=c_left_ticks)
pc.yaxis.bounds = (0, 8)
style_axis(pc.yaxis[0], "15px")
pc.yaxis.major_tick_out = 10
pc.yaxis.major_label_standoff = 5
pc.yaxis.axis_label = "Observed (–logP)"
pc.yaxis.axis_label_text_font_size = "14px"
pc.yaxis.axis_label_standoff = 14
ry = LinearAxis(y_range_name="recomb", ticker=FixedTicker(ticks=c_right_ticks), bounds=(0, 46.8))
style_axis(ry, "15px")
ry.major_tick_out = 9
ry.major_label_standoff = 5
pc.add_layout(ry, "right")

# title of the right-hand (recombination) axis, reading bottom-to-top
pr = blank(20, PC_H)
txt(pr, 13, 343 - TOP_H, "Recombination rate (cM/Mb)", "14px", align="center", angle=np.pi / 2)

# =============== Panel C (genes + chromosome axis) ===============
pg = figure(width=762, height=115, output_backend="svg", toolbar_location=None,
            x_range=Range1d(60453.1, 60999.6), y_range=Range1d(0, 1),
            y_axis_location=None, min_border_left=42, min_border_right=56, min_border_top=0, min_border_bottom=70)
base(pg)
row_y = [(528 - 488) / 45, (528 - 512) / 45]
label_y = [(528 - 490) / 45, (528 - 512) / 45]
for i, name in enumerate(gene_names):
    yy = row_y[i]
    pg.segment(x0=[gene_start[i]], y0=[yy], x1=[gene_end[i]], y1=[yy], line_color="#2f8a2f", line_width=2)
    chev = np.arange(gene_intron[i][0], gene_intron[i][1], 8.2)
    pg.text(x=chev, y=[yy] * len(chev), text=["<"] * len(chev), text_font=value(FONT),
            text_font_size=value("9px"), text_align="center", text_baseline="middle", text_color="#b8b8b8")
    tk = gene_exon_ticks[i]
    pg.segment(x0=tk, y0=[yy - 0.122] * len(tk), x1=tk, y1=[yy + 0.122] * len(tk), line_color="black",
               line_width=1.5)
    for (b0, b1) in gene_exon_boxes[i]:
        pg.quad(left=[b0], right=[b1], bottom=[yy - 0.1], top=[yy + 0.1], fill_color="black", line_color="black")
    txt(pg, gene_end[i] + 11, label_y[i], name, "13px", style="italic")
pg.segment(x0=[mir_pos], y0=[row_y[0] - 0.11], x1=[mir_pos], y1=[row_y[0] + 0.11], line_color="black", line_width=1.5)
txt(pg, mir_pos + 2.5, label_y[0], "<", "9px", color="#b8b8b8")
txt(pg, mir_pos - 3, label_y[0], mir_name, "13px", align="right")

end_ticks = [60453.3, 60999.4]
pg.xaxis.ticker = FixedTicker(ticks=[end_ticks[0]] + c_x_ticks + [end_ticks[1]])
ovr = {t: f"{t:,} kb" for t in c_x_ticks}
ovr[end_ticks[0]] = ""
ovr[end_ticks[1]] = ""
pg.xaxis.major_label_overrides = ovr
style_axis(pg.xaxis[0], "13px")
pg.xaxis.major_tick_out = 9
pg.xaxis.major_label_standoff = 9
pg.xaxis.axis_label = "Chromosome 2"
pg.xaxis.axis_label_text_font_size = "13px"
pg.xaxis.axis_label_standoff = 11

layout = column(row(pl, pa, pb), row(pc, pr), pg)
open("out.html", "w").write(file_html(layout, INLINE, title="BCL11A figure"))
